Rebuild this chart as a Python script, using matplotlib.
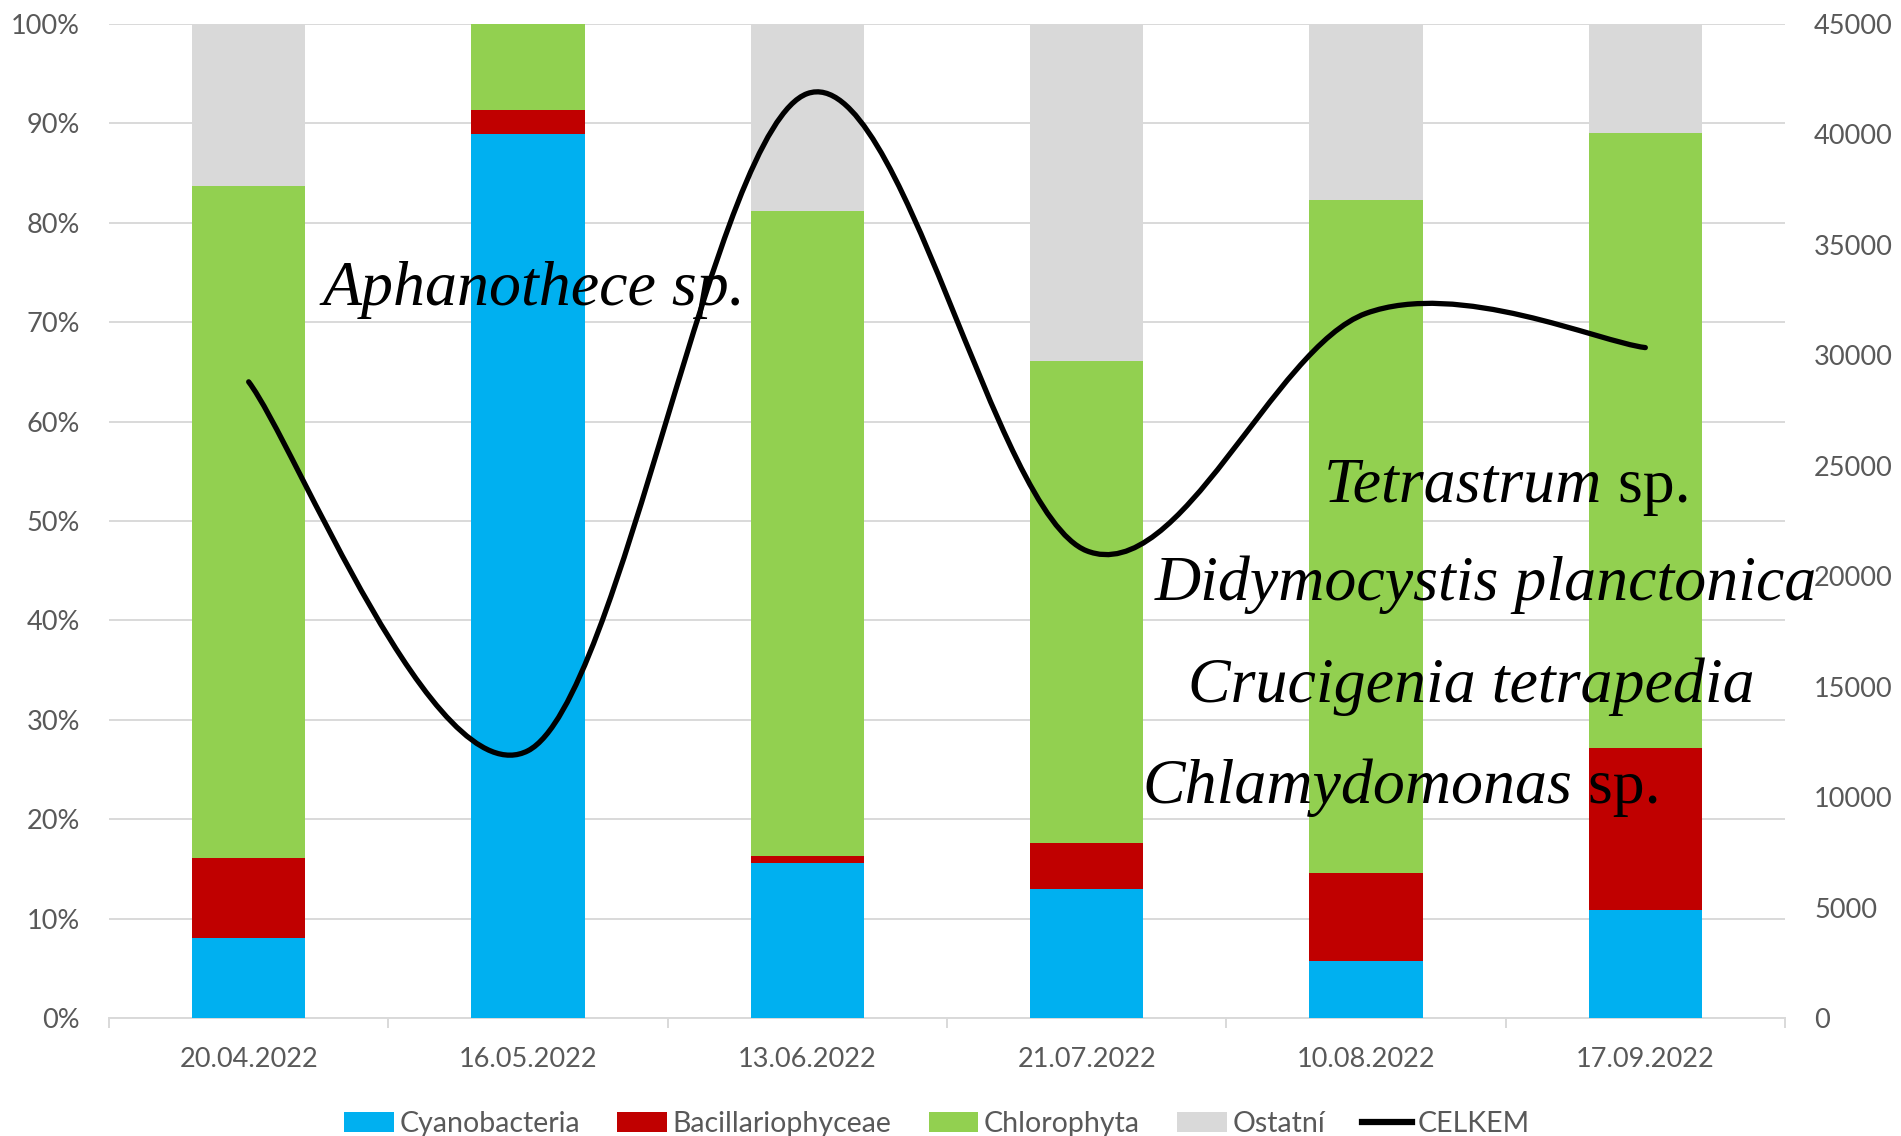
import matplotlib
matplotlib.use("Agg")
import matplotlib.pyplot as plt
import numpy as np
from matplotlib.path import Path
from matplotlib.patches import PathPatch, Patch
from matplotlib.lines import Line2D

# ---- data ----
dates = ["20.04.2022", "16.05.2022", "13.06.2022", "21.07.2022", "10.08.2022", "17.09.2022"]
cyanobacteria = [8.0, 88.9, 15.6, 13.0, 5.7, 10.9]
bacillariophyceae = [8.1, 2.4, 0.7, 4.6, 8.9, 16.3]
chlorophyta = [67.6, 8.7, 64.9, 48.5, 67.7, 61.8]
ostatni = [16.3, 0.0, 18.8, 33.9, 17.7, 11.0]
celkem = [28800, 12100, 41850, 21150, 31900, 30350]
series_names = ["Cyanobacteria", "Bacillariophyceae", "Chlorophyta", "Ostatní"]
line_name = "CELKEM"
left_ticks = [0, 10, 20, 30, 40, 50, 60, 70, 80, 90, 100]
right_ticks = [0, 5000, 10000, 15000, 20000, 25000, 30000, 35000, 40000, 45000]
species = ["Aphanothece sp.", "Tetrastrum", "Didymocystis planctonica",
           "Crucigenia tetrapedia", "Chlamydomonas"]

colors = ["#00B0F0", "#C00000", "#92D050", "#D9D9D9"]
grid_c = "#D9D9D9"
txt_c = "#595959"
tick_font = ["Lato", "DejaVu Sans"]
serif = ["Liberation Serif", "DejaVu Serif"]

W, H = 1901, 1136
fig = plt.figure(figsize=(W / 100, H / 100), dpi=100)
ax = fig.add_axes([109 / W, (H - 1018) / H, 1676 / W, (1018 - 24) / H])
ax2 = ax.twinx()

x = np.arange(len(dates))
bottom = np.zeros(len(dates))
for vals, c, name in zip([cyanobacteria, bacillariophyceae, chlorophyta, ostatni], colors, series_names):
    ax.bar(x, vals, 0.405, bottom=bottom, color=c, label=name, zorder=2, linewidth=0)
    bottom = bottom + np.array(vals)

ax.set_xlim(-0.5, len(dates) - 0.5)
ax.set_ylim(0, 100)
ax.set_yticks(left_ticks)
ax.set_yticklabels([f"{t}%" for t in left_ticks])
ax.set_xticks(x)
ax.set_xticklabels(dates)
ax.set_xticks(np.arange(-0.5, len(dates), 1.0), minor=True)
ax.tick_params(axis="x", which="major", length=0, pad=21, labelsize=19.5, labelcolor=txt_c)
ax.tick_params(axis="x", which="minor", length=7, width=1.4, color=grid_c, direction="out")
ax.tick_params(axis="y", length=0, pad=21, labelsize=19.5, labelcolor=txt_c)
for lab in ax.get_xticklabels() + ax.get_yticklabels():
    lab.set_fontfamily(tick_font)
ax.yaxis.grid(True, color=grid_c, linewidth=1.4)
ax.set_axisbelow(True)
for s in ["left", "right", "top"]:
    ax.spines[s].set_visible(False)
ax.spines["bottom"].set_color(grid_c)
ax.spines["bottom"].set_linewidth(1.4)
ax.spines["bottom"].set_zorder(1)

# smooth (Excel-like) line on secondary axis
ax2.set_ylim(0, 45000)
ax2.set_yticks(right_ticks)
ax2.set_yticklabels([str(t) for t in right_ticks])
ax2.tick_params(axis="y", length=0, pad=21, labelsize=19.5, labelcolor=txt_c)
for lab in ax2.get_yticklabels():
    lab.set_fontfamily(tick_font)
for s in ax2.spines.values():
    s.set_visible(False)

pts = np.column_stack([x.astype(float), np.array(celkem, dtype=float)])
n = len(pts)
verts = [tuple(pts[0])]
codes = [Path.MOVETO]
for i in range(n - 1):
    p0 = pts[i - 1] if i > 0 else pts[i]
    p1 = pts[i]
    p2 = pts[i + 1]
    p3 = pts[i + 2] if i + 2 < n else pts[i + 1]
    c1 = p1 + (p2 - p0) / 6.0
    c2 = p2 - (p3 - p1) / 6.0
    verts += [tuple(c1), tuple(c2), tuple(p2)]
    codes += [Path.CURVE4] * 3
path = Path(verts, codes)
ax2.add_patch(PathPatch(path, facecolor="none", edgecolor="black", linewidth=3.8,
                        capstyle="round", joinstyle="round", zorder=3))

# species annotations
fs = 46
def ftxt(px, py, s, style="italic"):
    return fig.text(px / W, 1 - py / H, s, fontsize=fs, fontstyle=style, family=serif,
                    ha="left", va="baseline", color="black")

ftxt(322, 305, species[0])
t = ftxt(1324, 502, species[1])
ax.annotate(" sp.", xy=(1, 0), xycoords=t, ha="left", va="bottom", fontsize=fs,
            family=serif, fontstyle="normal", color="black", annotation_clip=False)
ftxt(1155, 600, species[2])
ftxt(1188, 702, species[3])
t = ftxt(1142, 803, species[4])
ax.annotate(" sp.", xy=(1, 0), xycoords=t, ha="left", va="bottom", fontsize=fs,
            family=serif, fontstyle="normal", color="black", annotation_clip=False)

# legend
handles = [Patch(facecolor=c, edgecolor="none") for c in colors]
handles.append(Line2D([], [], color="black", linewidth=4.5))
fig.legend(handles, series_names + [line_name], loc="center", ncol=5,
           bbox_to_anchor=(937 / W, 1 - 1124 / H), frameon=False,
           prop={"family": tick_font, "size": 20.5}, labelcolor=txt_c,
           handlelength=1.75, handleheight=0.75, handletextpad=0.2, columnspacing=1.3,
           borderpad=0, borderaxespad=0)

fig.savefig("out.png", dpi=100)
